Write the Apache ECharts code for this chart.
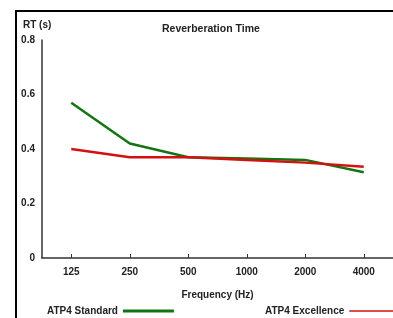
<!DOCTYPE html>
<html>
<head>
<meta charset="utf-8">
<script src="https://cdn.jsdelivr.net/npm/echarts@6/dist/echarts.min.js"></script>
<style>
  html, body { margin: 0; padding: 0; background: #fff; }
  #chart { width: 393px; height: 318px; }
</style>
</head>
<body>
<div id="chart"></div>
<script>
// 频率类别和混响时间
const frequencies = ['125', '250', '500', '1000', '2000', '4000']
const standardRT = [0.57, 0.42, 0.37, 0.365, 0.36, 0.315]
const excellenceRT = [0.40, 0.37, 0.37, 0.36, 0.35, 0.335]
const yTicks = [0, 0.2, 0.4, 0.6, 0.8]

const font = "'Liberation Sans', Arial, sans-serif"
const chart = echarts.init(document.getElementById('chart'))

const option = {
  backgroundColor: '#fff',
  animation: false,
  textStyle: { fontFamily: font },
  title: [
    {
      text: 'Reverberation Time',
      left: 162,
      top: 24,
      padding: 0,
      textStyle: { fontSize: 10.5, fontWeight: 'bold', color: '#222', fontFamily: font }
    },
    {
      text: 'RT (s)',
      left: 23,
      top: 20,
      padding: 0,
      textStyle: { fontSize: 10, fontWeight: 'bold', color: '#222', fontFamily: font }
    }
  ],
  legend: [
    {
      data: ['ATP4 Standard'],
      left: 47,
      top: 306,
      padding: 0,
      align: 'right',
      icon: 'rect',
      itemWidth: 51,
      itemHeight: 3,
      itemGap: 4,
      textStyle: { fontSize: 10, fontWeight: 'bold', color: '#222', fontFamily: font }
    },
    {
      data: ['ATP4 Excellence'],
      left: 265,
      top: 306,
      padding: 0,
      align: 'right',
      icon: 'rect',
      itemWidth: 51,
      itemHeight: 1.5,
      itemGap: 4,
      textStyle: { fontSize: 10, fontWeight: 'bold', color: '#222', fontFamily: font }
    }
  ],
  grid: {
    left: 42,
    top: 40,
    width: 355,
    height: 218,
    containLabel: false
  },
  xAxis: {
    type: 'category',
    data: frequencies,
    boundaryGap: true,
    name: 'Frequency (Hz)',
    nameLocation: 'middle',
    nameGap: 32,
    nameTextStyle: { fontSize: 10, fontWeight: 'bold', color: '#222' },
    axisLine: { lineStyle: { color: '#333', width: 1.5 } },
    axisTick: { show: true, inside: true, length: 4, alignWithLabel: true, lineStyle: { color: '#333' } },
    axisLabel: { fontSize: 10, fontWeight: 'bold', color: '#222', margin: 9 },
    splitLine: { show: false }
  },
  yAxis: {
    type: 'value',
    min: 0,
    max: 0.8,
    interval: 0.2,
    axisLine: { show: true, lineStyle: { color: '#333', width: 1.5 } },
    axisTick: { show: false },
    axisLabel: {
      fontSize: 10,
      fontWeight: 'bold',
      color: '#222',
      margin: 7,
      formatter: (v) => {
        const t = yTicks.find(x => Math.abs(x - v) < 1e-6)
        return t === 0 ? '0' : String(t)
      }
    },
    splitLine: { show: false }
  },
  graphic: [
    {
      // 外框只有上边和左边
      type: 'polyline',
      shape: { points: [[16, 330], [16, 11], [400, 11]] },
      style: { fill: 'none', stroke: '#000', lineWidth: 2 },
      silent: true
    }
  ],
  series: [
    {
      name: 'ATP4 Standard',
      type: 'line',
      data: standardRT,
      showSymbol: false,
      symbol: 'none',
      itemStyle: { color: '#137413' },
      lineStyle: { color: '#137413', width: 2.5 }
    },
    {
      name: 'ATP4 Excellence',
      type: 'line',
      data: excellenceRT,
      showSymbol: false,
      symbol: 'none',
      itemStyle: { color: '#d41010' },
      lineStyle: { color: '#d41010', width: 2.5 }
    }
  ]
}

chart.setOption(option)
</script>
</body>
</html>
